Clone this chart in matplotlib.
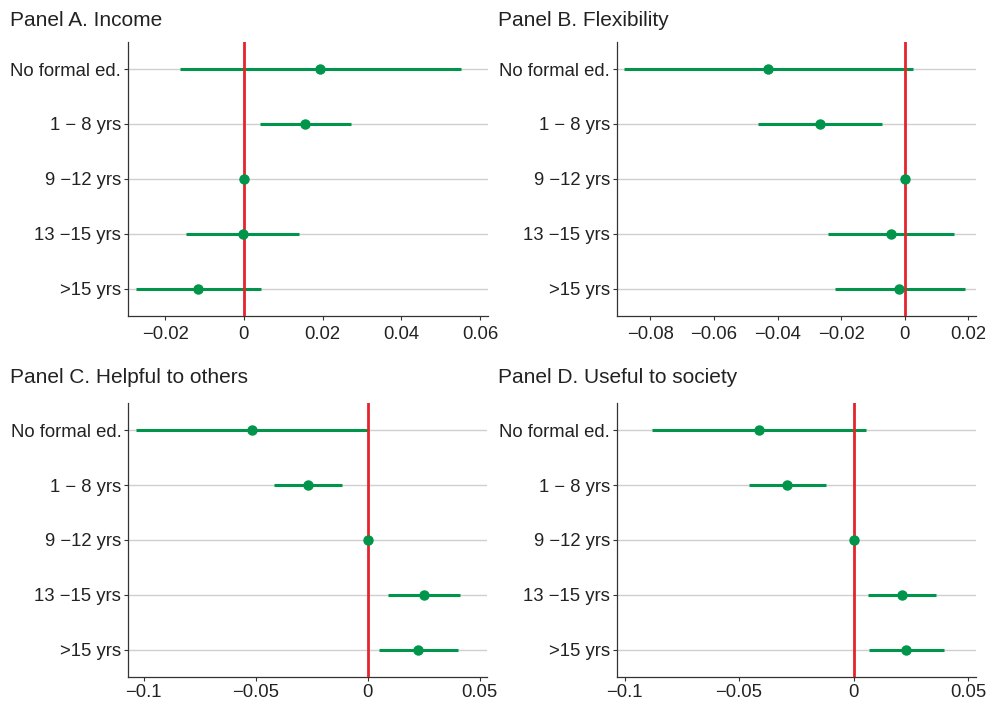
import matplotlib
matplotlib.use("Agg")
import matplotlib.pyplot as plt
from matplotlib.ticker import FuncFormatter

plt.rcParams['font.family'] = ['Liberation Sans', 'DejaVu Sans']

# Education groups (top to bottom)
GROUPS = ['No formal ed.', '1 \u2212 8 yrs', '9 \u221212 yrs', '13 \u221215 yrs', '>15 yrs']

# Panel A. Income
INCOME_EST = [0.0194, 0.0156, 0.0, -0.0003, -0.0115]
INCOME_LO = [-0.0163, 0.0040, 0.0, -0.0146, -0.0273]
INCOME_HI = [0.0551, 0.0272, 0.0, 0.0141, 0.0044]

# Panel B. Flexibility
FLEX_EST = [-0.0429, -0.0268, 0.0, -0.0043, -0.0017]
FLEX_LO = [-0.0882, -0.0463, 0.0, -0.0242, -0.0221]
FLEX_HI = [0.0025, -0.0072, 0.0, 0.0156, 0.0189]

# Panel C. Helpful to others
HELP_EST = [-0.0515, -0.0265, 0.0, 0.0251, 0.0226]
HELP_LO = [-0.1034, -0.0417, 0.0, 0.0092, 0.0051]
HELP_HI = [0.0003, -0.0113, 0.0, 0.0414, 0.0402]

# Panel D. Useful to society
USEFUL_EST = [-0.0413, -0.0291, 0.0, 0.0211, 0.0228]
USEFUL_LO = [-0.0880, -0.0457, 0.0, 0.0061, 0.0065]
USEFUL_HI = [0.0054, -0.0122, 0.0, 0.0359, 0.0393]

GREEN = '#00954a'
RED = '#e3242b'
GRID = '#cfcfcf'


def fmt(v, pos):
    s = f"{v:g}"
    if abs(v) < 1e-12:
        s = "0"
    return s.replace('-', '\u2212')


def panel(ax, est, lo, hi, xlim, xticks, xpad):
    y = list(range(1, len(GROUPS) + 1))
    for yi in y:
        ax.axhline(yi, color=GRID, lw=1.0, zorder=0)
    ax.hlines(y, lo, hi, color=GREEN, lw=2.2, zorder=2)
    ax.axvline(0, color=RED, lw=2.0, zorder=3)
    ax.plot(est, y, 'o', color=GREEN, ms=6.5, zorder=4)

    ax.set_xlim(*xlim)
    ax.set_ylim(5.5, 0.5)
    ax.set_xticks(xticks)
    ax.xaxis.set_major_formatter(FuncFormatter(fmt))
    ax.set_yticks(y)
    ax.set_yticklabels(GROUPS)
    for side in ['top', 'right']:
        ax.spines[side].set_visible(False)
    for side in ['left', 'bottom']:
        ax.spines[side].set_color('#333333')
        ax.spines[side].set_linewidth(0.9)
    ax.tick_params(axis='both', labelsize=13.3, length=3, width=0.8,
                   color='#333333', labelcolor='#222222', pad=2)
    ax.tick_params(axis='x', pad=xpad)


fig = plt.figure(figsize=(9.86, 7.02), dpi=100)

ax_a = fig.add_axes([0.1298, 0.5499, 0.3651, 0.3908])
ax_b = fig.add_axes([0.6255, 0.5499, 0.3644, 0.3908])
ax_c = fig.add_axes([0.1301, 0.0352, 0.3641, 0.3912])
ax_d = fig.add_axes([0.6255, 0.0352, 0.3644, 0.3912])

panel(ax_a, INCOME_EST, INCOME_LO, INCOME_HI,
      (-0.0294, 0.062), [-0.02, 0, 0.02, 0.04, 0.06], 4)
panel(ax_b, FLEX_EST, FLEX_LO, FLEX_HI,
      (-0.0906, 0.0224), [-0.08, -0.06, -0.04, -0.02, 0, 0.02], 4)
panel(ax_c, HELP_EST, HELP_LO, HELP_HI,
      (-0.1068, 0.0534), [-0.1, -0.05, 0, 0.05], 1.5)
panel(ax_d, USEFUL_EST, USEFUL_LO, USEFUL_HI,
      (-0.1034, 0.0534), [-0.1, -0.05, 0, 0.05], 1.5)

# Panel titles
title_kw = dict(fontsize=15, color='#222222', va='center', ha='left')
fig.text(10 / 986, 1 - 21 / 702, 'Panel A. Income', **title_kw)
fig.text(498 / 986, 1 - 21 / 702, 'Panel B. Flexibility', **title_kw)
fig.text(10 / 986, 1 - 377 / 702, 'Panel C. Helpful to others', **title_kw)
fig.text(498 / 986, 1 - 377 / 702, 'Panel D. Useful to society', **title_kw)

fig.savefig('out.png', dpi=100)
